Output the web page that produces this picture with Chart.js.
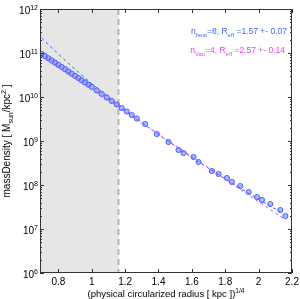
<!DOCTYPE html>
<html>
<head>
<meta charset="utf-8">
<script src="https://cdn.jsdelivr.net/npm/chart.js@4.4.1/dist/chart.umd.min.js"></script>
<style>
  html, body { margin: 0; padding: 0; background: #fff; }
  #wrap { width: 300px; height: 299px; }
</style>
</head>
<body>
<div id="wrap"><canvas id="c" width="300" height="299"></canvas></div>
<script>
// measured profile, x = r^(1/4), y = mass density
var radiusX = [0.70,0.72,0.74,0.76,0.78,0.80,0.82,0.84,0.86,0.88,0.90,0.92,0.94,0.96,0.98,1.00,
  1.03,1.06,1.09,1.12,1.15,1.18,1.21,1.24,1.27,
  1.32,1.39,1.46,1.52,1.55,1.61,1.64,1.72,1.76,1.81,1.84,1.89,1.94,1.99,2.02,2.07,2.13,2.16];
var densityY = [9.55e10,8.51e10,7.59e10,6.76e10,6.03e10,5.37e10,4.79e10,4.27e10,3.80e10,3.39e10,3.02e10,2.69e10,2.40e10,2.14e10,1.91e10,1.70e10,
  1.41e10,1.17e10,9.77e9,8.13e9,6.76e9,5.62e9,4.68e9,3.89e9,3.24e9,
  2.43e9,1.44e9,9.48e8,6.24e8,5.33e8,4.33e8,3.33e8,2.08e8,1.78e8,1.44e8,1.17e8,9.48e7,6.93e7,5.33e7,4.56e7,3.70e7,2.70e7,1.97e7];

// best sersic fit (n=8)
var fitBestX = [0.70,0.80,0.90,1.00,1.10,1.20,1.40,1.60,1.80,2.00,2.13];
var fitBestY = [2.19e11,9.46e10,4.28e10,2.02e10,9.89e9,5.00e9,1.39e9,4.20e8,1.37e8,4.73e7,2.45e7];

// de Vaucouleurs fit (n=4)
var fitVauX = [0.70,1.16,2.16];
var fitVauY = [8.91e10,5.89e9,1.62e7];

var xTicks = [0.8,1.0,1.2,1.4,1.6,1.8,2.0,2.2];
var xTickLabels = ["0.8","1","1.2","1.4","1.6","1.8","2","2.2"];
var yExponents = [6,7,8,9,10,11,12];
var shadeEdge = 1.16;

var BLUE = "rgb(70,100,255)";
var MAGENTA = "rgb(220,70,240)";
var FONT = '"Liberation Sans", Arial, sans-serif';

function toPoints(xs, ys) {
    var pts = [];
    for (var i = 0; i < xs.length; i++) pts.push({x: xs[i], y: ys[i]});
    return pts;
}

// draw text with sub/superscript parts: [text, mode] mode = 0 normal, -1 sub, 1 sup
function richWidth(ctx, parts, size) {
    var w = 0;
    parts.forEach(function(p) {
        ctx.font = (p[1] ? size * 0.7 : size) + "px " + FONT;
        w += ctx.measureText(p[0]).width;
    });
    return w;
}
function drawRich(ctx, parts, x, y, size, align) {
    var w = richWidth(ctx, parts, size);
    var cx = x;
    if (align === "right") cx = x - w;
    else if (align === "center") cx = x - w / 2;
    ctx.textAlign = "left";
    ctx.textBaseline = "alphabetic";
    parts.forEach(function(p) {
        var s = p[1] ? size * 0.7 : size;
        ctx.font = s + "px " + FONT;
        var dy = p[1] === 1 ? -size * 0.45 : (p[1] === -1 ? size * 0.3 : 0);
        ctx.fillText(p[0], cx, y + dy);
        cx += ctx.measureText(p[0]).width;
    });
}

var decorPlugin = {
    id: "decor",
    beforeDatasetsDraw: function(chart) {
        var ctx = chart.ctx, a = chart.chartArea;
        var xs = chart.scales.x;
        var edge = xs.getPixelForValue(shadeEdge);
        ctx.save();
        ctx.fillStyle = "#e6e6e6";
        ctx.fillRect(a.left, a.top, edge - a.left, a.bottom - a.top);
        ctx.strokeStyle = "#b4b4b4";
        ctx.lineWidth = 2;
        ctx.setLineDash([6, 4]);
        ctx.beginPath();
        ctx.moveTo(edge, a.top);
        ctx.lineTo(edge, a.bottom);
        ctx.stroke();
        ctx.restore();
    },
    afterDraw: function(chart) {
        var ctx = chart.ctx, a = chart.chartArea;
        var xs = chart.scales.x, ys = chart.scales.y;
        ctx.save();
        ctx.strokeStyle = "#333";
        ctx.lineWidth = 1;
        ctx.strokeRect(a.left + 0.5, a.top + 0.5, a.right - a.left - 1, a.bottom - a.top - 1);

        // x ticks, bottom and top, pointing inward
        ctx.beginPath();
        xs.ticks.forEach(function(t) {
            var px = Math.round(xs.getPixelForValue(t.value)) + 0.5;
            ctx.moveTo(px, a.bottom); ctx.lineTo(px, a.bottom - 4);
            ctx.moveTo(px, a.top); ctx.lineTo(px, a.top + 4);
        });
        // y ticks, major and minor on both sides
        yExponents.forEach(function(e) {
            for (var m = 1; m <= 9; m++) {
                var v = m * Math.pow(10, e);
                if (v > ys.max * 1.0001) continue;
                var py = Math.round(ys.getPixelForValue(v)) + 0.5;
                var len = m === 1 ? 4 : 2;
                ctx.moveTo(a.left, py); ctx.lineTo(a.left + len, py);
                ctx.moveTo(a.right, py); ctx.lineTo(a.right - len, py);
            }
        });
        ctx.stroke();

        // tick labels
        ctx.fillStyle = "#000";
        xs.ticks.forEach(function(t, i) {
            var px = xs.getPixelForValue(t.value);
            drawRich(ctx, [[xTickLabels[i], 0]], px, a.bottom + 12, 10, "center");
        });
        ys.ticks.forEach(function(t) {
            var py = ys.getPixelForValue(t.value);
            var e = Math.round(Math.log10(t.value));
            drawRich(ctx, [["10", 0], [String(e), 1]], a.left - 2, py + 5, 10, "right");
        });

        // axis titles
        drawRich(ctx, [["(physical circularized radius [ kpc ])", 0], ["1/4", 1]],
            (a.left + a.right) / 2, a.bottom + 24, 9.5, "center");
        ctx.save();
        ctx.translate(10, (a.top + a.bottom) / 2);
        ctx.rotate(-Math.PI / 2);
        drawRich(ctx, [["massDensity [ M", 0], ["sun", -1], ["/kpc", 0], ["2", 1], [" ]", 0]], 0, 0, 10, "center");
        ctx.restore();

        // fit annotations
        ctx.fillStyle = BLUE;
        drawRich(ctx, [["n", 0], ["best", -1], ["=8, R", 0], ["eff", -1], [" =1.57 +- 0.07", 0]],
            a.right - 5, a.top + 25, 8.5, "right");
        ctx.fillStyle = MAGENTA;
        drawRich(ctx, [["n", 0], ["Vau", -1], ["=4, R", 0], ["eff", -1], [" =2.57 +- 0.14", 0]],
            a.right - 7, a.top + 44, 8.5, "right");
        ctx.restore();
    }
};

var data = {
    datasets: [{
        label: "n=4",
        data: toPoints(fitVauX, fitVauY),
        showLine: true,
        borderColor: MAGENTA,
        borderWidth: 1,
        borderDash: [3, 3],
        pointRadius: 0,
        fill: false
    }, {
        label: "n=8",
        data: toPoints(fitBestX, fitBestY),
        showLine: true,
        borderColor: BLUE,
        borderWidth: 1,
        borderDash: [3, 3],
        pointRadius: 0,
        fill: false
    }, {
        label: "profile",
        data: toPoints(radiusX, densityY),
        showLine: false,
        pointStyle: "circle",
        pointRadius: 2.6,
        borderWidth: 1,
        borderColor: "rgba(60,90,255,0.9)",
        backgroundColor: "rgba(110,140,255,0.6)"
    }]
};

var options = {
    responsive: false,
    animation: false,
    layout: { padding: { top: 9, right: 8, left: 0, bottom: 0 } },
    plugins: { legend: { display: false }, tooltip: { enabled: false } },
    scales: {
        x: {
            type: "linear",
            min: 0.69,
            max: 2.2,
            grid: { display: false },
            border: { display: false },
            ticks: { display: false },
            afterBuildTicks: function(scale) {
                scale.ticks = xTicks.map(function(v) { return {value: v}; });
            },
            afterFit: function(scale) { scale.height = 26; }
        },
        y: {
            type: "logarithmic",
            min: 1e6,
            max: 1e12,
            grid: { display: false },
            border: { display: false },
            ticks: { display: false },
            afterBuildTicks: function(scale) {
                scale.ticks = yExponents.map(function(e) { return {value: Math.pow(10, e)}; });
            },
            afterFit: function(scale) { scale.width = 40; }
        }
    }
};

var chart = new Chart(document.getElementById("c").getContext("2d"), {
    type: "scatter",
    data: data,
    options: options,
    plugins: [decorPlugin]
});
</script>
</body>
</html>
